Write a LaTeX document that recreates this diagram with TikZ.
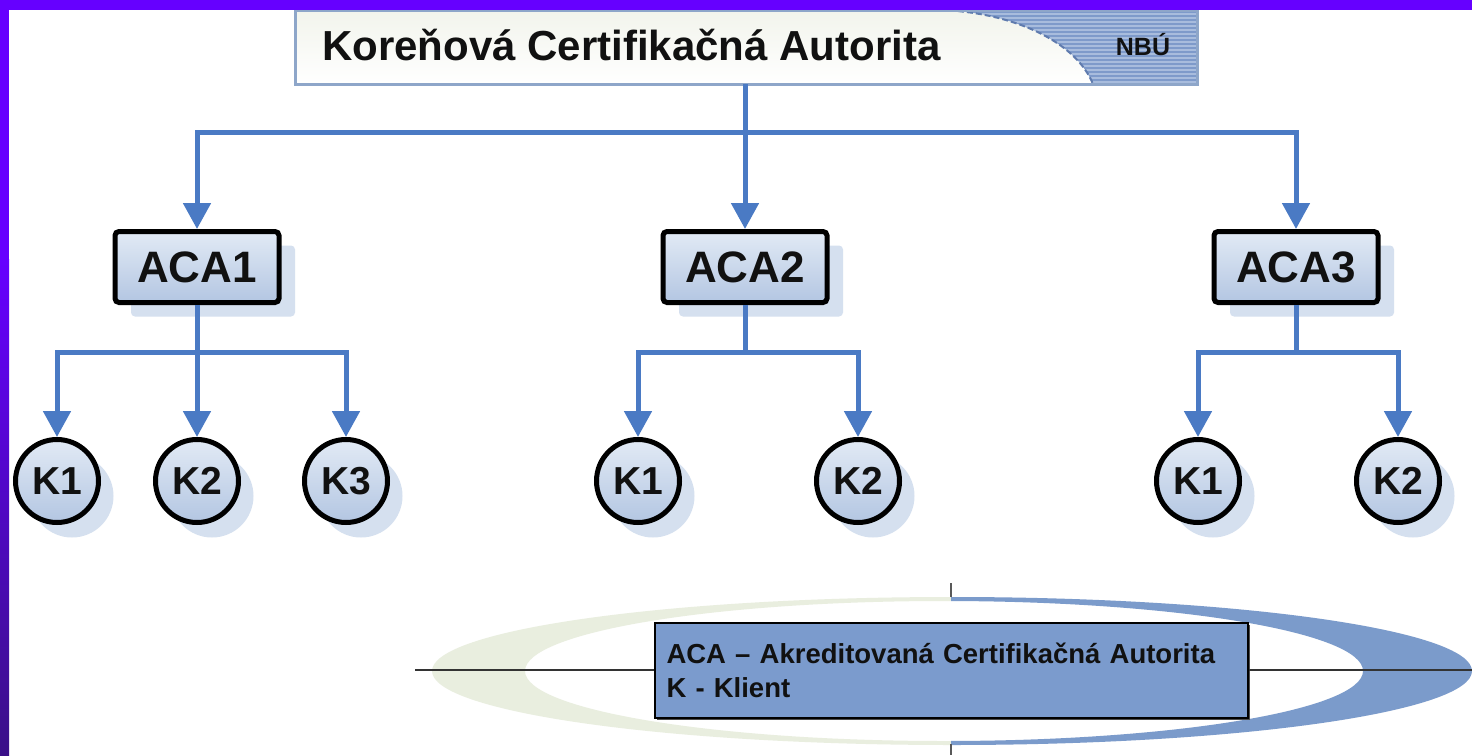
\documentclass[tikz,border=0pt]{standalone}
\usepackage{fontspec}
\setmainfont{Liberation Sans}
\usetikzlibrary{arrows.meta,calc,shadows}
\definecolor{purp}{HTML}{6600FF}
\definecolor{purpdark}{HTML}{3A1088}
\definecolor{connc}{HTML}{4A7AC4}
\definecolor{boxtop}{HTML}{E2EAF5}
\definecolor{boxbot}{HTML}{B3C6E2}
\definecolor{shadowc}{HTML}{D5E0EF}
\definecolor{legendc}{HTML}{7B9BCD}
\definecolor{swgreen}{HTML}{E9EEDF}
\definecolor{swblue}{HTML}{7B9BCB}
\definecolor{bannerborder}{HTML}{8EA6C9}
\definecolor{stripebase}{HTML}{A8BCDD}
\definecolor{stripec}{HTML}{7E9ACA}
\definecolor{curvec}{HTML}{5F7BAE}
\definecolor{textc}{HTML}{111111}
\definecolor{bannertop}{HTML}{F2F4EC}
\begin{document}
\begin{tikzpicture}[x=1pt,y=-1pt,
  conn/.style={draw=connc, line width=5pt},
  arr/.style={conn, -{Triangle[width=27pt,length=26pt]}},
  acabox/.style={draw=black, line width=5pt, rounded corners=4pt,
    minimum width=164pt, minimum height=71pt, inner sep=0pt,
    top color=boxtop, bottom color=boxbot, text=textc,
    font=\fontsize{44}{50}\selectfont\bfseries,
    drop shadow={shadow xshift=16pt, shadow yshift=-14pt, fill=shadowc, opacity=1}},
  kcirc/.style={circle, draw=black, line width=5pt, minimum size=83pt, inner sep=0pt,
    top color=boxtop, bottom color=boxbot, text=textc,
    font=\fontsize{39}{44}\selectfont\bfseries,
    drop shadow={shadow xshift=15pt, shadow yshift=-15pt, fill=shadowc, opacity=1}},
  hline/.style={draw=black!80, line width=2.5pt},
  tick/.style={draw=black!65, line width=2.5pt}
]
\useasboundingbox (0,0) rectangle (1472,755);
\fill[white] (0,0) rectangle (1472,755);

% banner
\shade[top color=bannertop, bottom color=white] (295,10) rectangle (1197,84);
\begin{scope}
  \clip (940,10) .. controls (1010,12) and (1075,40) .. (1093,84) -- (1197,84) -- (1197,10) -- cycle;
  \fill[stripebase] (900,0) rectangle (1200,90);
  \foreach \yy in {12,16,...,84} \draw[stripec, line width=2pt] (900,\yy) -- (1200,\yy);
\end{scope}
\draw[curvec, line width=2pt, dash pattern=on 6pt off 3pt] (940,10) .. controls (1010,12) and (1075,40) .. (1093,84);
\draw[bannerborder, line width=3pt] (295,10) rectangle (1197,84);
\node[minimum width=902pt, minimum height=74pt, inner sep=0pt, outer sep=0pt] (root) at (745,47) {};
\node[anchor=base west, inner sep=0pt, text=textc, font=\fontsize{42}{48}\selectfont\bfseries] (title) at (322,60) {Koreňová Certifikačná Autorita};
\node[inner sep=0pt, text=textc, font=\fontsize{25}{30}\selectfont\bfseries] (nbu) at (1143,45) {NBÚ};

% purple frame
\fill[purp] (0,0) rectangle (1472,10);
\fill[purp] (0,0) rectangle (9,260);
\shade[top color=purp, bottom color=purpdark] (0,259) rectangle (9,755);

% ACA boxes
\node[acabox] (aca1) at (197,267) {ACA1};
\node[acabox] (aca2) at (745,267) {ACA2};
\node[acabox] (aca3) at (1296,267) {ACA3};

% clients
\node[kcirc] (k11) at (57,481) {K1};
\node[kcirc] (k12) at (197,481) {K2};
\node[kcirc] (k13) at (346,481) {K3};
\node[kcirc] (k21) at (638,481) {K1};
\node[kcirc] (k22) at (858,481) {K2};
\node[kcirc] (k31) at (1198,481) {K1};
\node[kcirc] (k32) at (1398,481) {K2};

% connectors
\draw[arr] (root.south) -- ++(0,48) -| (aca1.north);
\draw[arr] (root.south) -- (aca2.north);
\draw[arr] (root.south) -- ++(0,48) -| (aca3.north);
\draw[arr] (aca1.south) -- ++(0,47) -| (k11.north);
\draw[arr] (aca1.south) -- (k12.north);
\draw[arr] (aca1.south) -- ++(0,47) -| (k13.north);
\draw[arr] (aca2.south) -- ++(0,47) -| (k21.north);
\draw[arr] (aca2.south) -- ++(0,47) -| (k22.north);
\draw[arr] (aca3.south) -- ++(0,47) -| (k31.north);
\draw[arr] (aca3.south) -- ++(0,47) -| (k32.north);

% legend swoosh
\begin{scope}
  \clip (0,560) rectangle (951,760);
  \fill[swgreen, even odd rule] (952,671) ellipse [x radius=520pt, y radius=74pt]
    (944,671) ellipse [x radius=419pt, y radius=70pt];
\end{scope}
\begin{scope}
  \clip (951,560) rectangle (1480,760);
  \fill[swblue, even odd rule] (952,671) ellipse [x radius=520pt, y radius=74pt]
    (944,671) ellipse [x radius=419pt, y radius=70pt];
\end{scope}
\coordinate (t1) at (951,583);
\coordinate (t2) at (951,597);
\coordinate (t3) at (951,744);
\coordinate (t4) at (951,755);
\draw[tick] (t1) -- (t2);
\draw[tick] (t3) -- (t4);

\node[draw=black, line width=2pt, fill=legendc, minimum height=95pt,
  text width=569pt, inner xsep=12pt, align=left, text=textc,
  font=\fontsize{27.5}{34}\selectfont\bfseries,
  drop shadow={shadow xshift=2pt, shadow yshift=-2pt, fill=black!70, opacity=1}]
  (legend) at (951,670) {ACA – Akreditovaná Certifikačná Autorita\\K - Klient};
\coordinate (hl) at (415,670);
\coordinate (hr) at (1472,670);
\draw[hline] (hl) -- (legend.west);
\draw[hline] (legend.east) -- (hr);
\end{tikzpicture}
\end{document}
